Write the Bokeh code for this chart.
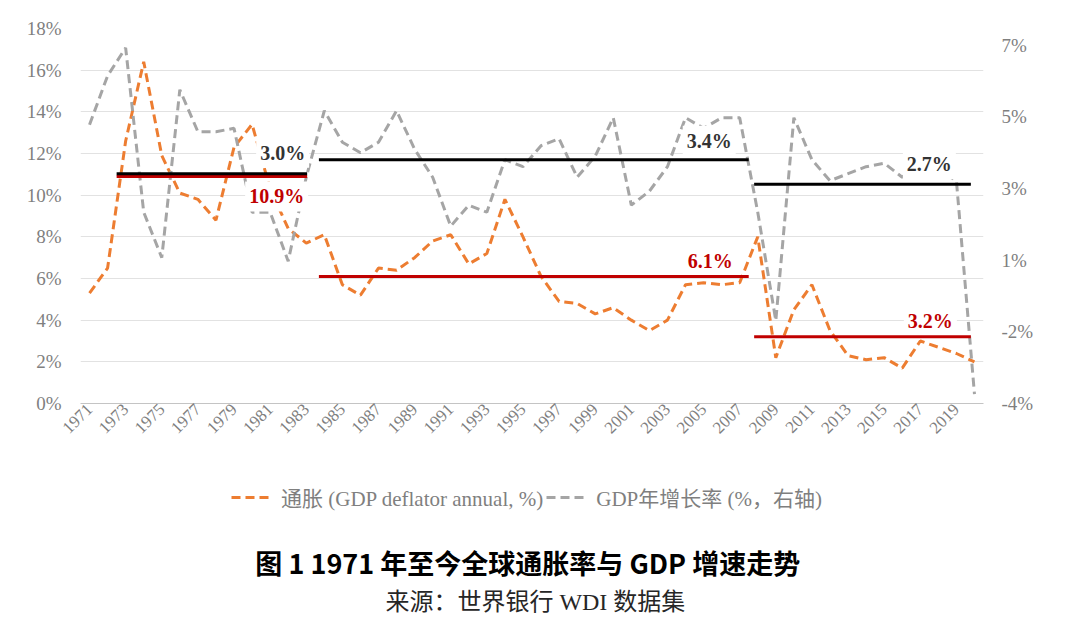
import math
from bokeh.plotting import figure
from bokeh.layouts import column
from bokeh.models import (Range1d, LinearAxis, FixedTicker, PrintfTickFormatter,
                          Legend, LegendItem, ColumnDataSource)
from bokeh.core.properties import value
from bokeh.embed import file_html
from bokeh.resources import INLINE

# ---------------- data ----------------
years = list(range(1971, 2021))
inflation = [5.3, 6.5, 12.6, 16.4, 11.9, 10.1, 9.8, 8.8, 12.3, 13.4,
             10.3, 8.4, 7.7, 8.1, 5.7, 5.2, 6.5, 6.4, 7.0, 7.8,
             8.1, 6.7, 7.2, 9.8, 8.0, 6.1, 4.9, 4.8, 4.3, 4.6,
             4.0, 3.5, 4.0, 5.7, 5.8, 5.7, 5.8, 8.0, 2.2, 4.5,
             5.7, 3.5, 2.3, 2.1, 2.2, 1.7, 3.0, 2.7, 2.4, 2.0]
gdp_growth = [4.4, 5.8, 6.6, 1.9, 0.6, 5.4, 4.2, 4.2, 4.3, 1.9,
              1.9, 0.5, 2.9, 4.8, 3.9, 3.6, 3.9, 4.8, 3.7, 2.9,
              1.5, 2.1, 1.9, 3.4, 3.2, 3.8, 4.0, 2.9, 3.5, 4.6,
              2.1, 2.5, 3.2, 4.6, 4.3, 4.6, 4.6, 1.9, -1.2, 4.6,
              3.4, 2.8, 3.0, 3.2, 3.3, 2.9, 3.3, 3.1, 2.8, -3.3]

period_start = [1972.5, 1983.7, 2007.8]
period_end = [1983.05, 2007.5, 2019.8]
gdp_avg = [3.0, 3.4, 2.7]
infl_avg = [10.9, 6.1, 3.2]

left_ticks = list(range(0, 20, 2))
x_ticks = years[::2]
right_tick_labels = ["-4%", "-2%", "1%", "3%", "5%", "7%"]
RIGHT_MIN = -3.57
RIGHT_STEP = 2.05

legend_labels = ["通胀 (GDP deflator annual, %)", "GDP年增长率 (%，右轴)"]
title_text = "图 1 1971 年至今全球通胀率与 GDP 增速走势"
source_text = "来源：世界银行 WDI 数据集"

# ---------------- styles ----------------
ORANGE = "#ED7D31"
GRAY = "#A5A5A5"
RED = "#C00000"
TICK_COLOR = "#7f7f7f"
SERIF = "'Liberation Serif', 'Noto Sans CJK SC'"
W = 1072
FRAME_H = 375

right_ticks = [round(RIGHT_MIN + k * RIGHT_STEP, 2) for k in range(len(right_tick_labels))]

p = figure(width=W, height=453, output_backend="svg", toolbar_location=None,
           title=None,
           x_range=Range1d(1970.5, 2020.5), y_range=Range1d(0, 18),
           min_border_left=80, min_border_right=W - 80 - 903, min_border_top=28,
           min_border_bottom=453 - 28 - FRAME_H)
p.extra_y_ranges = {"gdp": Range1d(RIGHT_MIN, RIGHT_MIN + RIGHT_STEP * FRAME_H / 71.7)}
p.outline_line_color = None

# left axis
yax = p.yaxis[0]
yax.ticker = FixedTicker(ticks=left_ticks)
yax.formatter = PrintfTickFormatter(format="%d%%")
yax.axis_line_color = None
yax.major_tick_line_color = None
yax.minor_tick_line_color = None
yax.major_label_standoff = 13
yax.major_label_text_font = SERIF
yax.major_label_text_font_size = "19px"
yax.major_label_text_color = TICK_COLOR

# right axis
rax = LinearAxis(y_range_name="gdp", ticker=FixedTicker(ticks=right_ticks),
                 major_label_overrides={t: l for t, l in zip(right_ticks, right_tick_labels)})
rax.axis_line_color = None
rax.major_tick_line_color = None
rax.minor_tick_line_color = None
rax.major_label_standoff = 12
rax.major_label_text_font = SERIF
rax.major_label_text_font_size = "19px"
rax.major_label_text_color = TICK_COLOR
p.add_layout(rax, "right")

# bottom axis
xax = p.xaxis[0]
xax.ticker = FixedTicker(ticks=x_ticks)
xax.major_label_orientation = math.pi / 4
xax.axis_line_color = "#c4c4c4"
xax.major_tick_line_color = None
xax.minor_tick_line_color = None
xax.major_tick_out = 0
xax.major_label_standoff = 3
xax.major_label_text_font = SERIF
xax.major_label_text_font_size = "17px"
xax.major_label_text_color = TICK_COLOR

p.xgrid.visible = False
p.ygrid.grid_line_color = "#e2e2e2"
p.ygrid.grid_line_width = 1

src = ColumnDataSource(dict(year=years, inflation=inflation, gdp=gdp_growth))
LINE_STYLE_INF = dict(line_color=ORANGE, line_width=3, line_dash="9 5")
LINE_STYLE_GDP = dict(line_color=GRAY, line_width=3, line_dash="9 5")
r_inf = p.line("year", "inflation", source=src, **LINE_STYLE_INF)
r_gdp = p.line("year", "gdp", source=src, y_range_name="gdp", **LINE_STYLE_GDP)

# value labels (white boxes, as in the original text boxes)
p.text(x=period_end, y=gdp_avg, text=[f"{v:.1f}%" for v in gdp_avg],
       y_range_name="gdp", x_offset=[2, -13, -15], y_offset=[-21, -19, -20],
       text_align="right", text_baseline="middle",
       text_font=value("Liberation Serif"), text_font_style="bold",
       text_font_size="20px", text_color="#333333",
       background_fill_color="white", padding=4)
p.text(x=period_end, y=infl_avg, text=[f"{v:.1f}%" for v in infl_avg],
       x_offset=[1, -12, -14], y_offset=[20, -15, -16],
       text_align="right", text_baseline="middle",
       text_font=value("Liberation Serif"), text_font_style="bold",
       text_font_size="20px", text_color=RED,
       background_fill_color="white", padding=4)

# average lines
p.segment(x0=period_start, y0=infl_avg, x1=period_end, y1=infl_avg,
          line_color=RED, line_width=3)
p.segment(x0=period_start, y0=gdp_avg, x1=period_end, y1=gdp_avg,
          y_range_name="gdp", line_color="black", line_width=3)

# ---------------- bottom panel: legend + caption ----------------
H2 = 172
p2 = figure(width=W, height=H2, output_backend="svg", toolbar_location=None,
            title=None, x_axis_type=None, y_axis_type=None,
            x_range=Range1d(0, W), y_range=Range1d(453 + H2, 453),
            min_border=0)
p2.outline_line_color = None
p2.grid.visible = False
# legend keys use the same series (they fall outside this panel's range)
k_inf = p2.line("year", "inflation", source=src, **LINE_STYLE_INF)
k_gdp = p2.line("year", "gdp", source=src, **LINE_STYLE_GDP)
legend = Legend(items=[LegendItem(label=value(legend_labels[0]), renderers=[k_inf]),
                       LegendItem(label=value(legend_labels[1]), renderers=[k_gdp])],
                location=(151, 453 + H2 - 512), orientation="horizontal",
                label_text_font=SERIF, label_text_font_size="21px",
                label_text_color=TICK_COLOR, glyph_width=40, glyph_height=20,
                label_height=20, label_standoff=10, spacing=3, padding=0, margin=0,
                border_line_color=None, background_fill_alpha=0)
p2.add_layout(legend, "center")

p2.text(x=[531], y=[562], text=[title_text], text_align="center",
        text_baseline="middle", text_font=value("Noto Sans CJK SC"),
        text_font_style="bold", text_font_size="27px", text_color="black")
p2.text(x=[540], y=[601], text=[source_text], text_align="center",
        text_baseline="middle", text_font=value(SERIF),
        text_font_size="24px", text_color="#262626")

layout = column(p, p2, spacing=0)
open("out.html", "w").write(file_html(layout, INLINE))
